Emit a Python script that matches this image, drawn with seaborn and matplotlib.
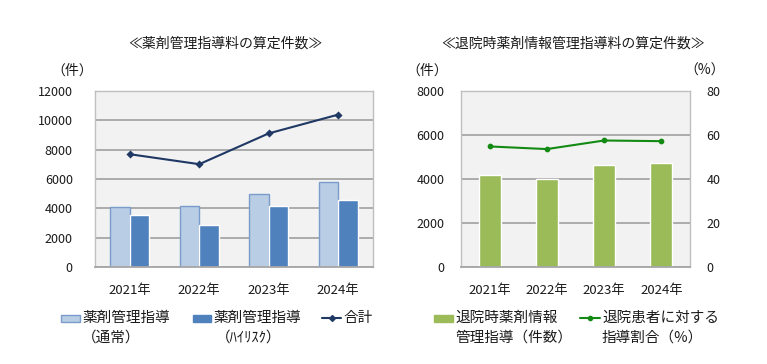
import numpy as np
import pandas as pd

import matplotlib
matplotlib.use("Agg")
import matplotlib.pyplot as plt
import seaborn as sns
from matplotlib.patches import Rectangle
from matplotlib.lines import Line2D


# data
years = ["2021年", "2022年", "2023年", "2024年"]
kanri_normal = [4110, 4150, 4950, 5800]     # 薬剤管理指導（通常）
kanri_high = [3560, 2860, 4160, 4580]       # 薬剤管理指導（ハイリスク）
kanri_total = [7690, 7010, 9110, 10390]     # 合計
taiin_count = [4180, 4010, 4630, 4740]      # 退院時薬剤情報管理指導（件数）
taiin_ratio = [54.8, 53.6, 57.5, 57.2]      # 退院患者に対する指導割合（%）

left_ticks = [0, 2000, 4000, 6000, 8000, 10000, 12000]
right_ticks = [0, 2000, 4000, 6000, 8000]
pct_ticks = [0, 20, 40, 60, 80]

LIGHT = "#B9CDE5"
LIGHT_EDGE = "#7A9CCB"
DARK = "#4F81BD"
NAVY = "#1F3864"
GREEN_BAR = "#9BBB59"
GREEN_LINE = "#138A13"
BG = "#F2F2F2"
GRID = "#A6A6A6"
FRAME = "#BFBFBF"
TXT = "#1A1A1A"

sns.set_style("white")
plt.rcParams["font.family"] = ["Noto Sans CJK JP", "DejaVu Sans"]

W, H = 767, 364
fig = plt.figure(figsize=(W / 100, H / 100), dpi=100)


def px_axes(x0, x1, y_top, y_bot):
    return fig.add_axes([x0 / W, 1 - y_bot / H, (x1 - x0) / W, (y_bot - y_top) / H])


def style_axes(ax, ticks):
    ax.set_facecolor(BG)
    ax.set_ylim(ticks[0], ticks[-1])
    ax.set_yticks(ticks)
    ax.yaxis.grid(True, color=GRID, linewidth=1.3)
    ax.set_axisbelow(True)
    for side in ["left", "top", "right"]:
        ax.spines[side].set_color(FRAME)
        ax.spines[side].set_linewidth(1.0)
    ax.spines["bottom"].set_color(GRID)
    ax.spines["bottom"].set_linewidth(1.3)
    ax.tick_params(axis="both", length=0, labelsize=9, colors=TXT)
    ax.tick_params(axis="x", labelsize=9.5, pad=12)
    ax.set_xlabel("")
    ax.set_ylabel("")


# ---- left chart
ax1 = px_axes(95, 373, 91, 267)
df_left = pd.DataFrame({
    "year": years * 2,
    "count": kanri_normal + kanri_high,
    "kind": ["通常"] * 4 + ["ハイリスク"] * 4,
})
sns.barplot(data=df_left, x="year", y="count", hue="kind",
            palette=[LIGHT, DARK], width=0.56, gap=0, saturation=1,
            legend=False, ax=ax1)
for bar in ax1.patches[:4]:
    bar.set_edgecolor(LIGHT_EDGE)
    bar.set_linewidth(1.0)
sns.pointplot(x=years, y=kanri_total, color=NAVY, markers="D",
              markersize=3, linewidth=1.5, ax=ax1)
style_axes(ax1, left_ticks)
ax1.set_xlim(-0.5, 3.5)
ax1.tick_params(axis="y", pad=16)

fig.text(225 / W, 1 - 44 / H, "≪薬剤管理指導料の算定件数≫", ha="center", va="center",
         fontsize=10, color=TXT)
fig.text(72 / W, 1 - 71 / H, "（件）", ha="center", va="center", fontsize=10, color=TXT)

# ---- right chart
ax2 = px_axes(461, 690, 91, 267)
sns.barplot(x=years, y=taiin_count, color=GREEN_BAR, width=0.38, saturation=1, ax=ax2)
style_axes(ax2, right_ticks)
ax2.tick_params(axis="y", pad=12)
ax3 = ax2.twinx()
sns.pointplot(x=years, y=taiin_ratio, color=GREEN_LINE, markers="o",
              markersize=3, linewidth=1.5, ax=ax3)
ax3.set_ylim(pct_ticks[0], pct_ticks[-1])
ax3.set_yticks(pct_ticks)
ax3.tick_params(axis="y", length=0, labelsize=9, pad=12, colors=TXT)
ax3.set_ylabel("")
for s in ax3.spines.values():
    s.set_visible(False)
ax2.set_xlim(-0.5, 3.5)
ax3.set_xlim(-0.5, 3.5)

fig.text(573 / W, 1 - 44 / H, "≪退院時薬剤情報管理指導料の算定件数≫", ha="center", va="center",
         fontsize=10, color=TXT)
fig.text(427 / W, 1 - 71 / H, "（件）", ha="center", va="center", fontsize=10, color=TXT)
fig.text(705 / W, 1 - 71 / H, "（%）", ha="center", va="center", fontsize=10, color=TXT)


# ---- legends drawn by hand (layout only)
def legend_patch(x0, x1, y, face, edge=None):
    fig.add_artist(Rectangle((x0 / W, 1 - (y + 3.5) / H), (x1 - x0) / W, 7 / H,
                             transform=fig.transFigure, facecolor=face,
                             edgecolor=edge if edge else face, linewidth=1.0))


def legend_line(x0, x1, y, color, marker):
    fig.add_artist(Line2D([x0 / W, x1 / W], [1 - y / H, 1 - y / H],
                          transform=fig.transFigure, color=color, linewidth=1.5))
    fig.add_artist(Line2D([(x0 + x1) / 2 / W], [1 - y / H], transform=fig.transFigure,
                          color=color, marker=marker, markersize=3))


def legend_text(x, y, s):
    fig.text(x / W, 1 - y / H, s, ha="left", va="center", fontsize=10.5, color=TXT)


legend_patch(61, 80, 318, LIGHT, LIGHT_EDGE)
legend_text(82, 318, "薬剤管理指導")
legend_text(82, 338, "（通常）")
legend_patch(193, 211, 318, DARK)
legend_text(213, 318, "薬剤管理指導")
legend_text(216, 338, "（ﾊｲﾘｽｸ）")
legend_line(322, 341, 318, NAVY, "D")
legend_text(343, 318, "合計")

legend_patch(434, 453, 318, GREEN_BAR)
legend_text(455, 318, "退院時薬剤情報")
legend_text(455, 338, "管理指導（件数）")
legend_line(580, 600, 318, GREEN_LINE, "o")
legend_text(602, 318, "退院患者に対する")
legend_text(602, 338, "指導割合（%）")

fig.savefig("out.png", dpi=100)
